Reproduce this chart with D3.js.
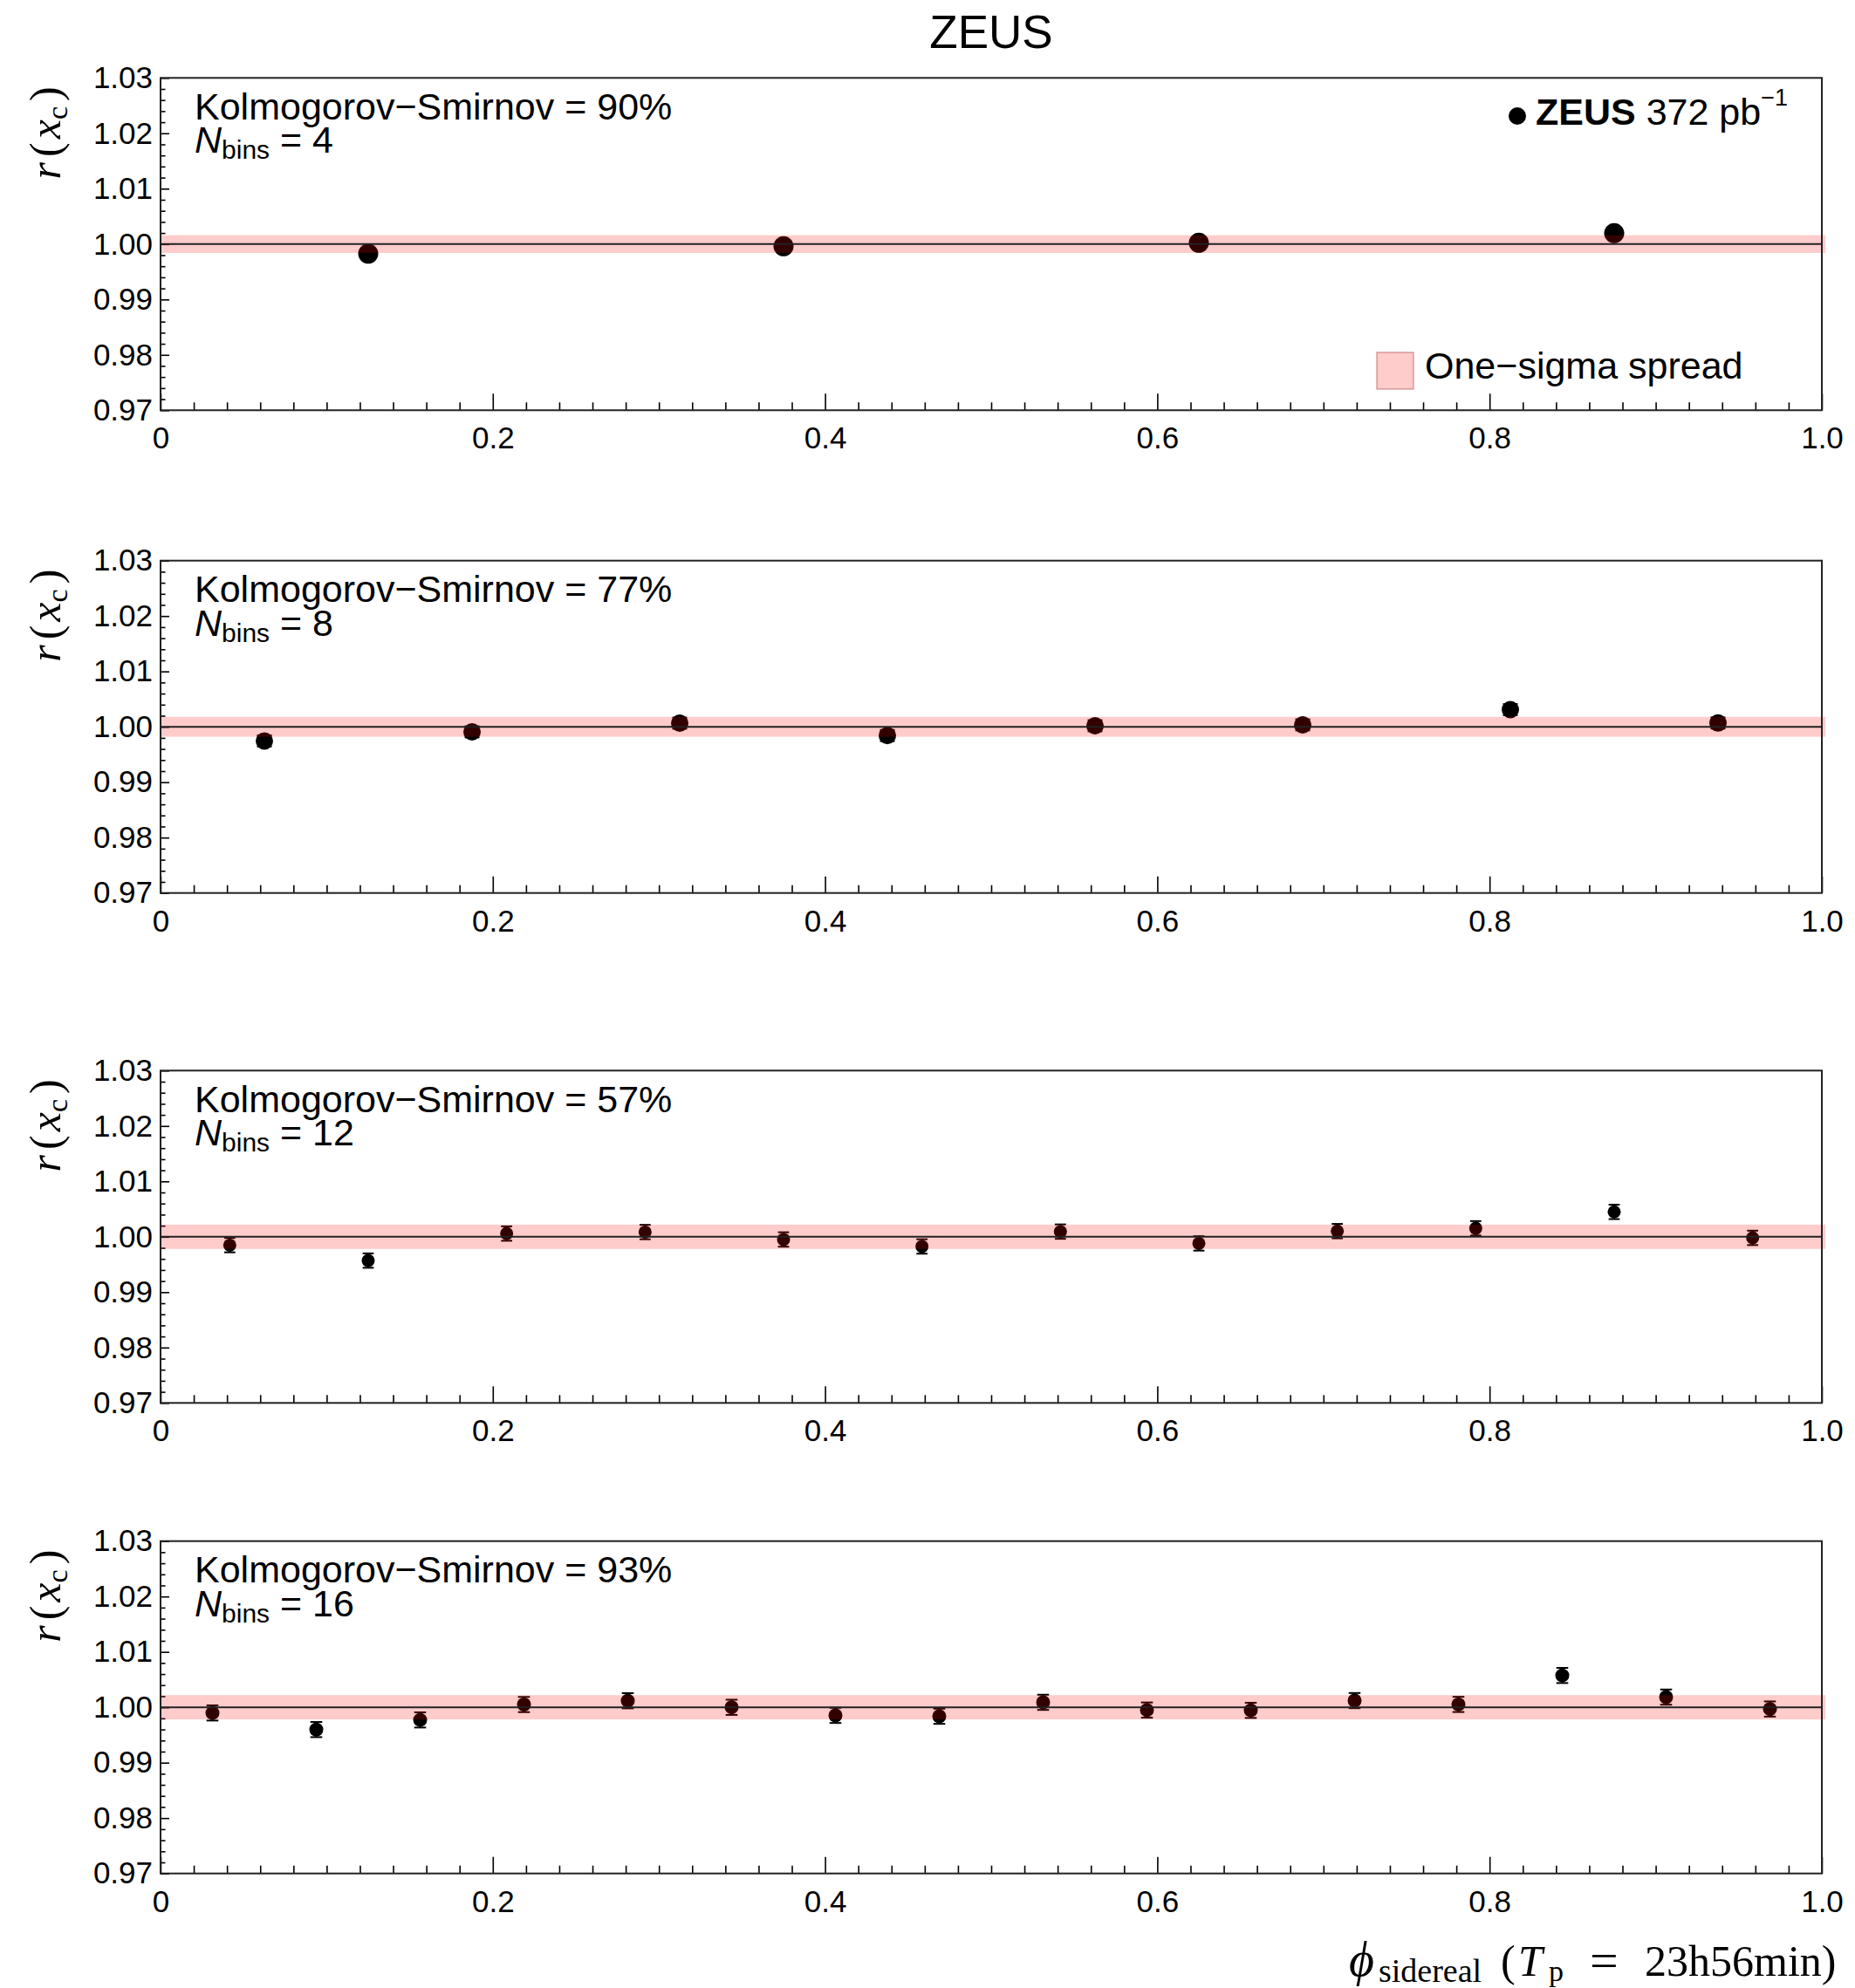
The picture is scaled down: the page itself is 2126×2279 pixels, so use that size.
<!DOCTYPE html>
<html>
<head>
<meta charset="utf-8">
<script src="https://cdn.jsdelivr.net/npm/d3@7"></script>
<style>
  html, body { margin: 0; padding: 0; background: #fff; }
  svg { display: block; }
  text { font-family: "Liberation Sans", Arial, Helvetica, sans-serif; fill: #000; }
  .serif { font-family: "Liberation Serif", "Times New Roman", serif; }
</style>
</head>
<body>
<svg id="chart" width="2126" height="2279"></svg>
<script>
// Axis ticks
const xTicks = [0, 0.2, 0.4, 0.6, 0.8, 1.0];
const yTicks = [0.97, 0.98, 0.99, 1.00, 1.01, 1.02, 1.03];

// One panel per binning of the sidereal phase
const nBins = [4, 8, 12, 16];
const ksProbability = [90, 77, 57, 93];

// Ratio r(x_c) per sidereal-phase bin
const ratio4 = [0.99827, 0.99961, 1.00024, 1.00197];
const ratio8 = [0.99745, 0.99909, 1.00066, 0.99843, 1.00019, 1.00035, 1.00310, 1.00069];
const ratio12 = [0.99849, 0.99570, 1.00058, 1.00085, 0.99951, 0.99825, 1.00093, 0.99880,
                 1.00102, 1.00153, 1.00449, 0.99980];
const ratio16 = [0.99898, 0.99598, 0.99772, 1.00050, 1.00118, 1.00000, 0.99854, 0.99838,
                 1.00090, 0.99950, 0.99945, 1.00121, 1.00052, 1.00575, 1.00184, 0.99969];
const ratios = [ratio4, ratio8, ratio12, ratio16];

// Statistical uncertainty of a single bin, per binning
const binError = [0.0007, 0.0010, 0.0013, 0.00137];

// Half-width of the one-sigma spread band around unity, per binning
const sigmaSpread = [0.0016, 0.0018, 0.0022, 0.0022];

// ---- layout ----
const svg = d3.select("#chart");
const left = 184, right = 2088;
const panelH = 381;
const panelTops = [89.3, 642.7, 1227.3, 1766.7];
const markerR = [11.5, 10, 7.5, 8];
const labelFont = "35px";
const textFont = "43px";

const x = d3.scaleLinear().domain([0, 1]).range([left, right]);
const xMinor = d3.range(0, 1.0001, 0.02).filter(v => Math.abs(v * 5 - Math.round(v * 5)) > 1e-6);
const yMinor = d3.range(0.97, 1.03001, 0.002).filter(v => Math.abs(v * 100 - Math.round(v * 100)) > 1e-6);

const styleTicks = a => {
  a.select(".domain").remove();
  a.selectAll("line").attr("stroke", "#000").attr("stroke-width", 1.6);
};

// Title
svg.append("text")
  .attr("x", (left + right) / 2).attr("y", 55)
  .attr("text-anchor", "middle")
  .style("font-size", "53px")
  .text("ZEUS");

nBins.forEach((nb, p) => {
  const top = panelTops[p];
  const y = d3.scaleLinear().domain([0.97, 1.03]).range([top + panelH, top]);
  const g = svg.append("g");

  // minor ticks (no labels)
  g.append("g").attr("transform", `translate(0,${top + panelH})`)
    .call(d3.axisBottom(x).tickValues(xMinor).tickSize(-9).tickSizeOuter(0))
    .call(styleTicks)
    .call(a => a.selectAll("text").remove());
  g.append("g").attr("transform", `translate(${left},0)`)
    .call(d3.axisLeft(y).tickValues(yMinor).tickSize(-5.5).tickSizeOuter(0))
    .call(styleTicks)
    .call(a => a.selectAll("text").remove());

  // major ticks and labels
  g.append("g").attr("transform", `translate(0,${top + panelH})`)
    .call(d3.axisBottom(x).tickValues(xTicks).tickSize(-19).tickSizeOuter(0).tickPadding(19)
      .tickFormat(d => d === 0 ? "0" : d3.format(".1f")(d)))
    .call(styleTicks)
    .call(a => a.selectAll("text").attr("fill", "#000")
      .style("font-size", labelFont).style("font-family", "Liberation Sans, Arial, sans-serif"));
  g.append("g").attr("transform", `translate(${left},0)`)
    .call(d3.axisLeft(y).tickValues(yTicks).tickSize(-10).tickSizeOuter(0).tickPadding(9)
      .tickFormat(d3.format(".2f")))
    .call(styleTicks)
    .call(a => a.selectAll("text").attr("fill", "#000")
      .style("font-size", labelFont).style("font-family", "Liberation Sans, Arial, sans-serif"));

  // data points with error bars
  const vals = ratios[p];
  const pts = vals.map((v, i) => ({ phi: (i + 0.5) / nb, r: v }));
  const err = binError[p];
  const cap = markerR[p] * 0.85;
  const pg = g.append("g");
  pg.selectAll("line.err").data(pts).join("line")
    .attr("class", "err")
    .attr("x1", d => x(d.phi)).attr("x2", d => x(d.phi))
    .attr("y1", d => y(d.r - err)).attr("y2", d => y(d.r + err))
    .attr("stroke", "#000").attr("stroke-width", 2);
  [-1, 1].forEach(s => {
    pg.selectAll(`line.cap${s}`).data(pts).join("line")
      .attr("class", `cap${s}`)
      .attr("x1", d => x(d.phi) - cap).attr("x2", d => x(d.phi) + cap)
      .attr("y1", d => y(d.r + s * err)).attr("y2", d => y(d.r + s * err))
      .attr("stroke", "#000").attr("stroke-width", 2);
  });
  pg.selectAll("circle").data(pts).join("circle")
    .attr("cx", d => x(d.phi)).attr("cy", d => y(d.r))
    .attr("r", markerR[p]).attr("fill", "#000");

  // one-sigma band (translucent, over the points)
  g.append("rect")
    .attr("x", x(0)).attr("width", x(1) - x(0) + 4)
    .attr("y", y(1 + sigmaSpread[p])).attr("height", y(1 - sigmaSpread[p]) - y(1 + sigmaSpread[p]))
    .attr("fill", "rgba(255,0,0,0.2)");

  // unity line
  g.append("line")
    .attr("x1", x(0)).attr("x2", x(1)).attr("y1", y(1)).attr("y2", y(1))
    .attr("stroke", "#222").attr("stroke-width", 2);

  // frame
  g.append("rect")
    .attr("x", left).attr("y", top).attr("width", right - left).attr("height", panelH)
    .attr("fill", "none").attr("stroke", "#222").attr("stroke-width", 2);

  // annotations
  const tx = left + 39;
  g.append("text").attr("x", tx).attr("y", top + 47.5)
    .style("font-size", textFont)
    .text(`Kolmogorov\u2212Smirnov = ${ksProbability[p]}%`);
  const nt = g.append("text").attr("x", tx).attr("y", top + 86).style("font-size", textFont);
  nt.append("tspan").style("font-style", "italic").text("N");
  nt.append("tspan").attr("dy", 7).style("font-size", "30px").text("bins");
  nt.append("tspan").attr("dy", -7).text(` = ${nb}`);

  // y-axis title
  const yt = g.append("text")
    .attr("class", "serif")
    .attr("transform", `translate(69,${top + 10}) rotate(-90)`)
    .attr("text-anchor", "end")
    .style("font-size", "50px");
  yt.append("tspan").style("font-style", "italic").text("r");
  yt.append("tspan").attr("dx", 6).text("(");
  yt.append("tspan").attr("dx", 4).style("font-style", "italic").text("x");
  yt.append("tspan").attr("dy", 8).style("font-size", "34px").text("c");
  yt.append("tspan").attr("dy", -8).attr("dx", 6).text(")");
});

// legend (top panel)
svg.append("circle").attr("cx", 1739).attr("cy", 133).attr("r", 10).attr("fill", "#000");
const lt = svg.append("text").attr("x", 1760).attr("y", 142.7).style("font-size", textFont);
lt.append("tspan").style("font-weight", "bold").text("ZEUS");
lt.append("tspan").text(" 372 pb");
lt.append("tspan").attr("dy", -22).style("font-size", "27px").text("\u22121");

svg.append("rect").attr("x", 1578).attr("y", 404).attr("width", 42).attr("height", 42)
  .attr("fill", "rgba(255,0,0,0.2)").attr("stroke", "rgba(170,60,60,0.45)").attr("stroke-width", 1.5);
svg.append("text").attr("x", 1633).attr("y", 433.5).style("font-size", textFont)
  .text("One\u2212sigma spread");

// x-axis title: phi_sidereal (T_p = 23h56min)
const xt = svg.append("text")
  .attr("class", "serif")
  .attr("y", 2265)
  .style("font-size", "50px");
xt.append("tspan").attr("x", 1546).style("font-style", "italic").style("font-size", "56px").text("\u03D5");
xt.append("tspan").attr("x", 1580).attr("dy", 7).style("font-size", "38px").text("sidereal");
xt.append("tspan").attr("x", 1720).attr("dy", -7).text("(");
xt.append("tspan").attr("x", 1740).style("font-style", "italic").text("T");
xt.append("tspan").attr("x", 1775).attr("dy", 6).style("font-size", "34px").text("p");
xt.append("tspan").attr("x", 1822).attr("dy", -6).style("font-size", "58px").attr("dy", -6 + 2).text("=");
xt.append("tspan").attr("x", 1885).attr("dy", -2).text("23h56min)");
</script>
</body>
</html>
